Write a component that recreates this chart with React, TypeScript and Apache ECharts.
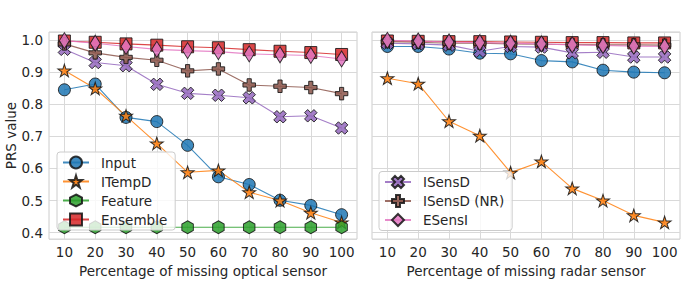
import React, { useEffect, useRef } from "react";
import * as echarts from "echarts";

const categories = ["10", "20", "30", "40", "50", "60", "70", "80", "90", "100"];
const yTickMin = 0.38;
const yTickMax = 1.025;

// Left panel: missing optical sensor
const inputOptical = [0.845, 0.863, 0.759, 0.746, 0.672, 0.574, 0.55, 0.501, 0.485, 0.456];
const itempdOptical = [0.905, 0.849, 0.764, 0.678, 0.588, 0.594, 0.526, 0.5, 0.462, 0.432];
const featureOptical = [0.417, 0.417, 0.417, 0.417, 0.417, 0.417, 0.417, 0.417, 0.417, 0.417];
const ensembleOptical = [0.997, 0.993, 0.988, 0.984, 0.979, 0.976, 0.97, 0.965, 0.961, 0.955];
const isensdOptical = [0.971, 0.93, 0.92, 0.862, 0.834, 0.828, 0.82, 0.761, 0.764, 0.726];
const isensdNrOptical = [0.988, 0.96, 0.946, 0.937, 0.904, 0.91, 0.86, 0.856, 0.852, 0.833];
const esensiOptical = [0.998, 0.99, 0.98, 0.971, 0.967, 0.964, 0.957, 0.954, 0.952, 0.941];

// Right panel: missing radar sensor
const inputRadar = [0.98, 0.98, 0.972, 0.959, 0.957, 0.936, 0.932, 0.906, 0.9, 0.898];
const itempdRadar = [0.881, 0.864, 0.747, 0.702, 0.587, 0.622, 0.538, 0.5, 0.454, 0.432];
const ensembleRadar = [0.997, 0.996, 0.995, 0.995, 0.994, 0.993, 0.992, 0.992, 0.991, 0.991];
const isensdRadar = [0.99, 0.988, 0.984, 0.965, 0.98, 0.978, 0.96, 0.962, 0.947, 0.947];
const isensdNrRadar = [0.995, 0.993, 0.99, 0.99, 0.988, 0.987, 0.986, 0.985, 0.985, 0.984];
const esensiRadar = [0.999, 0.997, 0.994, 0.992, 0.99, 0.988, 0.985, 0.983, 0.981, 0.98];

const leftLegendNames = ["Input", "ITempD", "Feature", "Ensemble"];
const rightLegendNames = ["ISensD", "ISensD (NR)", "ESensI"];

const STAR =
  "path://M100,0L122.45,69.1L195.1,69.1L136.33,111.8L158.8,180.9L100,138.2L41.2,180.9L63.67,111.8L4.9,69.1L77.55,69.1Z";
const HEX = "path://M86.6,0L173.2,50L173.2,150L86.6,200L0,150L0,50Z";
const XFILL = "path://M1,0L2,1L3,0L4,1L3,2L4,3L3,4L2,3L1,4L0,3L1,2L0,1Z";
const PFILL = "path://M2,0L4,0L4,2L6,2L6,4L4,4L4,6L2,6L2,4L0,4L0,2L2,2Z";

const FONT = "DejaVu Sans";
const TXT = "#262626";

function hexA(hex: string, a: number) {
  const r = parseInt(hex.slice(1, 3), 16);
  const g = parseInt(hex.slice(3, 5), 16);
  const b = parseInt(hex.slice(5, 7), 16);
  return `rgba(${r},${g},${b},${a})`;
}

function mk(
  name: string,
  data: number[],
  color: string,
  symbol: string,
  size: number | number[],
  idx: number
) {
  return {
    type: "line",
    name,
    data,
    xAxisIndex: idx,
    yAxisIndex: idx,
    symbol,
    symbolSize: size,
    showAllSymbol: true,
    lineStyle: { color: hexA(color, 0.85), width: 1.1 },
    itemStyle: { color: hexA(color, 0.85), borderColor: "rgba(20,20,20,0.85)", borderWidth: 1 },
    emphasis: { disabled: true },
  };
}

const C = {
  blue: "#1f77b4",
  orange: "#ff7f0e",
  green: "#2ca02c",
  red: "#d62728",
  purple: "#9467bd",
  brown: "#8c564b",
  pink: "#e377c2",
};

export default function App() {
  const ref = useRef<HTMLDivElement>(null);
  useEffect(() => {
    if (!ref.current) return;
    const chart = echarts.init(ref.current, null, { renderer: "svg" });
    const xAxisBase = (gi: number, title: string) => ({
      type: "category",
      gridIndex: gi,
      data: categories,
      boundaryGap: true,
      name: title,
      nameLocation: "middle",
      nameGap: 20,
      nameTextStyle: { fontFamily: FONT, fontSize: 13.5, color: TXT },
      axisLine: { show: false },
      axisTick: { show: false, alignWithLabel: true, interval: 0 },
      axisLabel: { fontFamily: FONT, fontSize: 13.5, color: TXT, margin: 6, interval: 0 },
      splitLine: {
        show: true,
        alignWithLabel: true,
        interval: 0,
        lineStyle: { color: "#d9d9d9", width: 1 },
      },
    });
    const yAxisBase = (gi: number, showLabels: boolean) => ({
      type: "value",
      gridIndex: gi,
      min: yTickMin,
      max: yTickMax,
      splitNumber: 6,
      name: showLabels ? "PRS value" : "",
      nameLocation: "middle",
      nameGap: 31,
      nameTextStyle: { fontFamily: FONT, fontSize: 13.5, color: TXT },
      axisLine: { show: false },
      axisTick: { show: false },
      axisLabel: {
        show: showLabels,
        fontFamily: FONT,
        fontSize: 13.5,
        color: TXT,
        margin: 6,
        showMinLabel: false,
        showMaxLabel: false,
        formatter: (v: number) => v.toFixed(1),
      },
      splitLine: { show: true, lineStyle: { color: "#d9d9d9", width: 1 } },
    });
    const legendBase = {
      orient: "vertical",
      itemWidth: 26,
      itemHeight: 15,
      itemGap: 5,
      backgroundColor: "rgba(255,255,255,0.8)",
      borderColor: "#cccccc",
      borderWidth: 1,
      borderRadius: 3,
      selectedMode: false,
      textStyle: { fontFamily: FONT, fontSize: 13.5, color: TXT, padding: [0, 0, 0, 7] },
    };
    chart.setOption({
      animation: false,
      grid: [
        { left: 49, right: 330, top: 32, bottom: 41, show: true, borderColor: "#cccccc", borderWidth: 1, containLabel: false },
        { left: 372, right: 7, top: 32, bottom: 41, show: true, borderColor: "#cccccc", borderWidth: 1, containLabel: false },
      ],
      xAxis: [
        xAxisBase(0, "Percentage of missing optical sensor"),
        xAxisBase(1, "Percentage of missing radar sensor"),
      ],
      yAxis: [yAxisBase(0, true), yAxisBase(1, false)],
      legend: [
        { ...legendBase, data: leftLegendNames, left: 57, top: 152, padding: [3.5, 8, 3.5, 5] },
        { ...legendBase, data: rightLegendNames, left: 379, top: 171.5, padding: [3.5, 8, 3.5, 5] },
      ],
      series: [
        mk("Input", inputOptical, C.blue, "circle", 12, 0),
        mk("ITempD", itempdOptical, C.orange, STAR, [13, 12.5], 0),
        mk("Feature", featureOptical, C.green, HEX, [11.5, 13], 0),
        mk("Ensemble", ensembleOptical, C.red, "rect", 12, 0),
        mk("ISensD", isensdOptical, C.purple, XFILL, 12.5, 0),
        mk("ISensD (NR)", isensdNrOptical, C.brown, PFILL, 12.5, 0),
        mk("ESensI", esensiOptical, C.pink, "diamond", [10, 16], 0),
        mk("Input", inputRadar, C.blue, "circle", 12, 1),
        mk("ITempD", itempdRadar, C.orange, STAR, [13, 12.5], 1),
        mk("Ensemble", ensembleRadar, C.red, "rect", 12, 1),
        mk("ISensD", isensdRadar, C.purple, XFILL, 12.5, 1),
        mk("ISensD (NR)", isensdNrRadar, C.brown, PFILL, 12.5, 1),
        mk("ESensI", esensiRadar, C.pink, "diamond", [10, 16], 1),
      ],
    });
    return () => chart.dispose();
  }, []);
  return (
    <div
      ref={ref}
      style={{ position: "fixed", left: 0, top: 0, width: 687, height: 283, background: "#ffffff" }}
    />
  );
}
